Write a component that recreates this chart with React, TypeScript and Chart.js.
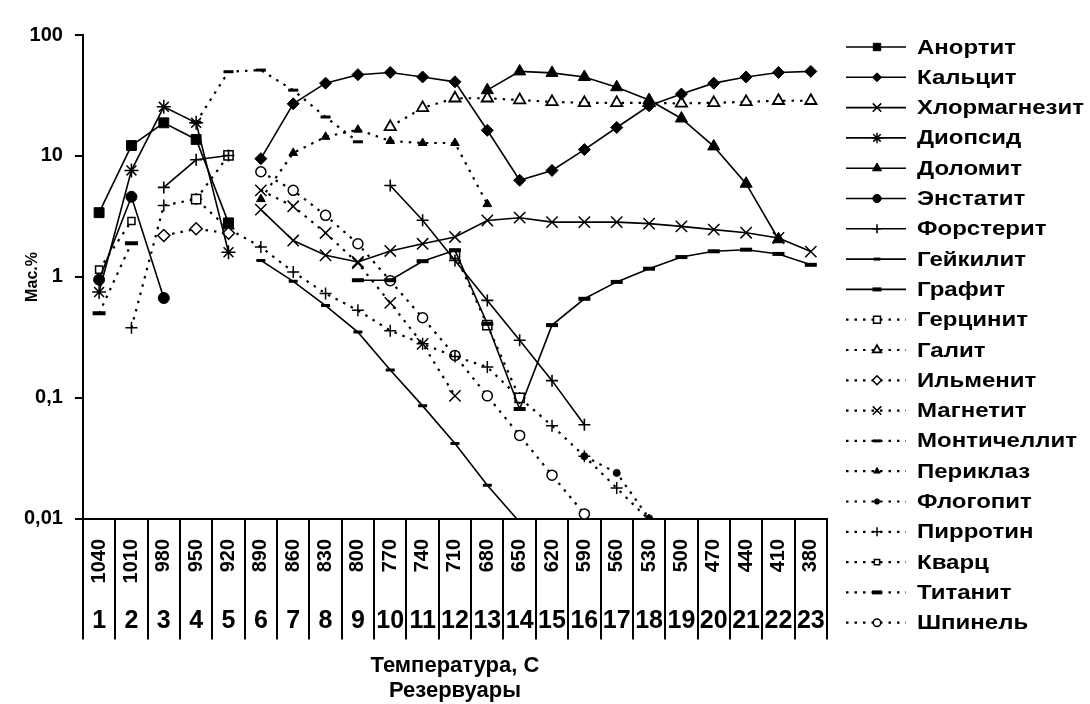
import React, { useEffect, useRef } from "react";
import { Chart, registerables } from "chart.js";
import { drawPoint } from "chart.js/helpers";

Chart.register(...registerables);

const N = null;

// Axis categories
const temperatures = ["1040", "1010", "980", "950", "920", "890", "860", "830", "800", "770", "740", "710", "680", "650", "620", "590", "560", "530", "500", "470", "440", "410", "380"];
const reservoirs = ["1", "2", "3", "4", "5", "6", "7", "8", "9", "10", "11", "12", "13", "14", "15", "16", "17", "18", "19", "20", "21", "22", "23"];
const yTickValues = [0.01, 0.1, 1, 10, 100];

// Mineral content, mass %
const anortit = [3.4, 12.2, 18.8, 13.7, 2.8, N, N, N, N, N, N, N, N, N, N, N, N, N, N, N, N, N, N];
const kalcit = [N, N, N, N, N, 9.5, 27, 40, 47, 49, 45, 41, 16.3, 6.3, 7.6, 11.3, 17.2, 26, 32.5, 40, 45, 49, 50];
const khlormagnezit = [N, N, N, N, N, 3.6, 2.0, 1.51, 1.33, 1.64, 1.88, 2.14, 2.93, 3.09, 2.84, 2.84, 2.84, 2.76, 2.62, 2.46, 2.32, 2.1, 1.62];
const diopsid = [0.75, 7.6, 25.5, 18.8, 1.6, N, N, N, N, N, N, N, N, N, N, N, N, N, N, N, N, N, N];
const dolomit = [N, N, N, N, N, N, N, N, N, N, N, N, 35, 50, 48.6, 45, 37, 29, 20.4, 12, 5.9, 2.05, N];
const enstatit = [0.95, 4.6, 0.67, N, N, N, N, N, N, N, N, N, N, N, N, N, N, N, N, N, N, N, N];
const forsterit = [N, N, 5.5, 9.3, 10.1, N, N, N, N, 5.7, 2.94, 1.37, 0.64, 0.3, 0.139, 0.06, N, N, N, N, N, N, N];
const geikilit = [N, N, N, N, N, 1.37, 0.92, 0.58, 0.35, 0.17, 0.086, 0.042, 0.019, 0.0094, N, N, N, N, N, N, N, N, N];
const grafit = [N, N, N, N, N, N, N, N, 0.94, 0.94, 1.35, 1.66, 0.41, 0.081, 0.4, 0.66, 0.91, 1.17, 1.46, 1.63, 1.68, 1.55, 1.26];
const gercinit = [N, N, N, 4.4, 10.1, N, N, N, N, N, N, 1.55, 0.4, 0.1, N, N, N, N, N, N, N, N, N];
const galit = [N, N, N, N, N, N, N, N, N, 17.4, 25, 30, 30, 29, 28, 27.5, 27.5, 27.5, 27.2, 27.5, 28, 28.6, 28.6];
const ilmenit = [N, N, 2.2, 2.5, 2.3, N, N, N, N, N, N, N, N, N, N, N, N, N, N, N, N, N, N];
const magnetit = [N, N, N, N, N, 5.2, 3.84, 2.31, 1.3, 0.61, 0.28, 0.104, N, N, N, N, N, N, N, N, N, N, N];
const monticellit = [N, N, N, 19, 49.7, 51.3, 35, 21, 13.1, N, N, N, N, N, N, N, N, N, N, N, N, N, N];
const periklaz = [N, N, N, N, N, 4.4, 10.6, 14.4, 16.5, 13.3, 12.8, 12.8, 4.0, N, N, N, N, N, N, N, N, N, N];
const flogopit = [N, N, N, N, N, N, N, N, N, N, N, N, N, N, N, 0.033, 0.024, 0.0101, N, N, N, N, N];
const pirrotin = [N, 0.38, 3.9, 4.4, 2.5, 1.77, 1.1, 0.73, 0.53, 0.36, 0.28, 0.22, 0.18, 0.1, 0.059, 0.033, 0.018, 0.0098, N, N, N, N, N];
const kvarc = [1.15, 2.9, N, N, N, N, N, N, N, N, N, N, N, N, N, N, N, N, N, N, N, N, N];
const titanit = [0.5, 1.9, N, N, N, N, N, N, N, N, N, N, N, N, N, N, N, N, N, N, N, N, N];
const shpinel = [N, N, N, N, N, 7.4, 5.2, 3.23, 1.88, 0.93, 0.46, 0.224, 0.104, 0.049, 0.023, 0.011, N, N, N, N, N, N, N];

type Marker = {
  label: string;
  data: (number | null)[];
  solid: boolean;
  pointStyle: string;
  radius: number;
  fill: string;
  markerWidth: number;
};

const series: Marker[] = [
  { label: "Анортит", data: anortit, solid: true, pointStyle: "rect", radius: 7, fill: "#000", markerWidth: 1 },
  { label: "Кальцит", data: kalcit, solid: true, pointStyle: "rectRot", radius: 6, fill: "#000", markerWidth: 1 },
  { label: "Хлормагнезит", data: khlormagnezit, solid: true, pointStyle: "crossRot", radius: 8, fill: "#000", markerWidth: 1.5 },
  { label: "Диопсид", data: diopsid, solid: true, pointStyle: "star", radius: 7, fill: "#000", markerWidth: 1.5 },
  { label: "Доломит", data: dolomit, solid: true, pointStyle: "triangle", radius: 7, fill: "#000", markerWidth: 1 },
  { label: "Энстатит", data: enstatit, solid: true, pointStyle: "circle", radius: 5.5, fill: "#000", markerWidth: 1 },
  { label: "Форстерит", data: forsterit, solid: true, pointStyle: "cross", radius: 6, fill: "#000", markerWidth: 1.6 },
  { label: "Гейкилит", data: geikilit, solid: true, pointStyle: "line", radius: 4.5, fill: "#000", markerWidth: 3 },
  { label: "Графит", data: grafit, solid: true, pointStyle: "line", radius: 6, fill: "#000", markerWidth: 4 },
  { label: "Герцинит", data: gercinit, solid: false, pointStyle: "rect", radius: 6.5, fill: "#fff", markerWidth: 1.5 },
  { label: "Галит", data: galit, solid: false, pointStyle: "triangle", radius: 6.5, fill: "#fff", markerWidth: 1.8 },
  { label: "Ильменит", data: ilmenit, solid: false, pointStyle: "rectRot", radius: 6, fill: "#fff", markerWidth: 1.5 },
  { label: "Магнетит", data: magnetit, solid: false, pointStyle: "crossRot", radius: 8, fill: "#000", markerWidth: 1.5 },
  { label: "Монтичеллит", data: monticellit, solid: false, pointStyle: "line", radius: 5, fill: "#000", markerWidth: 3 },
  { label: "Периклаз", data: periklaz, solid: false, pointStyle: "triangle", radius: 5, fill: "#000", markerWidth: 1 },
  { label: "Флогопит", data: flogopit, solid: false, pointStyle: "circle", radius: 3.5, fill: "#000", markerWidth: 1 },
  { label: "Пирротин", data: pirrotin, solid: false, pointStyle: "cross", radius: 6, fill: "#000", markerWidth: 1.5 },
  { label: "Кварц", data: kvarc, solid: false, pointStyle: "rect", radius: 5, fill: "#fff", markerWidth: 1.5 },
  { label: "Титанит", data: titanit, solid: false, pointStyle: "line", radius: 6.5, fill: "#000", markerWidth: 4 },
  { label: "Шпинель", data: shpinel, solid: false, pointStyle: "circle", radius: 5, fill: "#fff", markerWidth: 1.5 },
];

const FONT = "'Liberation Sans', Arial, sans-serif";
const NARROW = "'Liberation Sans Narrow', 'Liberation Sans', Arial, sans-serif";
const DOTS = [2.5, 6];

const legendBox = { lineStart: 846, marker: 877, lineEnd: 906, text: 917, top: 47, step: 30.3, stretch: 1.2 };

// Legend drawn as a column of line samples with the series marker in the middle
const legendPlugin = {
  id: "mineralLegend",
  afterDraw(chart: any) {
    const ctx = chart.ctx as CanvasRenderingContext2D;
    ctx.save();
    chart.data.datasets.forEach((ds: any, i: number) => {
      const y = legendBox.top + i * legendBox.step;
      ctx.strokeStyle = "#000";
      ctx.lineWidth = ds.borderWidth;
      ctx.setLineDash(ds.borderDash || []);
      ctx.beginPath();
      ctx.moveTo(legendBox.lineStart, y);
      ctx.lineTo(legendBox.lineEnd, y);
      ctx.stroke();
      ctx.setLineDash([]);
      ctx.fillStyle = ds.pointBackgroundColor;
      ctx.lineWidth = ds.pointBorderWidth;
      drawPoint(ctx, { pointStyle: ds.pointStyle, radius: ds.pointRadius * 0.75, borderWidth: ds.pointBorderWidth, rotation: 0 } as any, legendBox.marker, y);
      ctx.save();
      ctx.translate(legendBox.text, y + 1);
      ctx.scale(legendBox.stretch, 1);
      ctx.fillStyle = "#000";
      ctx.font = `bold 20px ${FONT}`;
      ctx.textBaseline = "middle";
      ctx.textAlign = "left";
      ctx.fillText(ds.label, 0, 0);
      ctx.restore();
    });
    ctx.restore();
  },
};

// Vertical separators between the category bands and the y-axis caption
const bandPlugin = {
  id: "bandLines",
  afterDraw(chart: any) {
    const x = chart.scales.x;
    const x2 = chart.scales.x2;
    const n = temperatures.length;
    const ctx = chart.ctx as CanvasRenderingContext2D;
    const top = chart.chartArea.bottom;
    const bottom = x2.top + 36;
    ctx.save();
    ctx.strokeStyle = "#000";
    ctx.lineWidth = 2;
    for (let i = 0; i <= n; i++) {
      const px = i === 0 ? x.left : i === n ? x.right : (x.getPixelForValue(i - 1) + x.getPixelForValue(i)) / 2;
      ctx.beginPath();
      ctx.moveTo(Math.round(px), top);
      ctx.lineTo(Math.round(px), bottom);
      ctx.stroke();
    }
    const area = chart.chartArea;
    ctx.translate(33, (area.top + area.bottom) / 2);
    ctx.rotate(-Math.PI / 2);
    ctx.fillStyle = "#000";
    ctx.font = `bold 16px ${FONT}`;
    ctx.textAlign = "center";
    ctx.textBaseline = "middle";
    ctx.fillText("Мас.%", 0, 0);
    ctx.restore();
  },
};

export default function App() {
  const ref = useRef<HTMLCanvasElement | null>(null);

  useEffect(() => {
    if (!ref.current) return;
    const datasets = series.map((s) => ({
      label: s.label,
      data: s.data,
      borderColor: "#000",
      backgroundColor: s.fill,
      borderWidth: s.solid ? 1.6 : 2.2,
      borderDash: s.solid ? [] : DOTS,
      pointStyle: s.pointStyle,
      pointRadius: s.radius,
      pointBackgroundColor: s.fill,
      pointBorderColor: "#000",
      pointBorderWidth: s.markerWidth,
      tension: 0,
      spanGaps: false,
      xAxisID: "x",
      yAxisID: "y",
    }));

    const chart = new Chart(ref.current, {
      type: "line",
      data: { labels: temperatures, datasets },
      plugins: [legendPlugin, bandPlugin],
      options: {
        responsive: false,
        animation: false,
        devicePixelRatio: 1,
        layout: { padding: { top: 35, right: 263, left: 12, bottom: 0 } },
        plugins: { legend: { display: false }, tooltip: { enabled: false } },
        scales: {
          y: {
            type: "logarithmic",
            min: 0.01,
            max: 100,
            afterBuildTicks: (scale: any) => {
              scale.ticks = yTickValues.map((v) => ({ value: v }));
            },
            ticks: {
              color: "#000",
              font: { family: FONT, size: 20, weight: "bold" },
              padding: 12,
              callback: (v: any) => String(v).replace(".", ","),
            },
            grid: { drawOnChartArea: false, drawTicks: true, tickLength: 8, color: "#000", lineWidth: 2 },
            border: { display: true, color: "#000", width: 2 },
          },
          x: {
            type: "category",
            position: "bottom",
            offset: true,
            ticks: {
              color: "#000",
              font: { family: FONT, size: 20, weight: "bold" },
              minRotation: 90,
              maxRotation: 90,
              autoSkip: false,
              padding: 20,
            },
            grid: { display: false, drawTicks: false },
            border: { display: true, color: "#000", width: 2 },
          },
          x2: {
            type: "category",
            position: "bottom",
            labels: reservoirs,
            offset: true,
            ticks: {
              color: "#000",
              font: { family: NARROW, size: 25, weight: "bold", lineHeight: 0.8 },
              autoSkip: false,
              maxRotation: 0,
              minRotation: 0,
              padding: 8,
            },
            grid: { display: false, drawTicks: false },
            border: { display: false },
            title: {
              display: true,
              text: ["Температура, С", "Резервуары"],
              color: "#000",
              font: { family: NARROW, size: 22, weight: "bold", lineHeight: 1.15 },
              padding: { top: 14, bottom: 0 },
            },
          },
        },
      } as any,
    });
    return () => chart.destroy();
  }, []);

  return (
    <div style={{ position: "absolute", left: 0, top: 0, width: 1090, height: 704, background: "#fff" }}>
      <canvas ref={ref} width={1090} height={704} />
    </div>
  );
}
